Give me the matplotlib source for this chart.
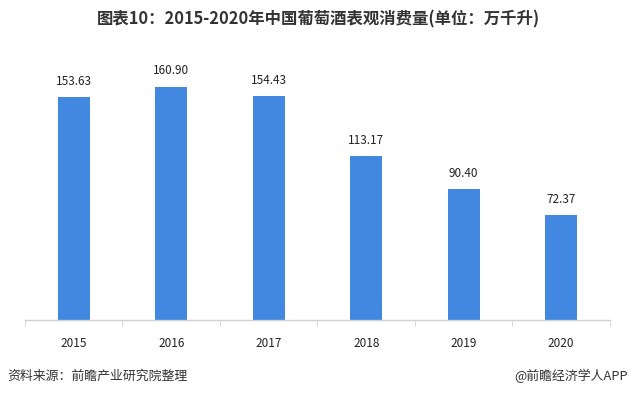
import matplotlib
matplotlib.use("Agg")
import matplotlib.pyplot as plt

plt.rcParams['font.family'] = ['Noto Sans CJK SC', 'DejaVu Sans']

years = ["2015", "2016", "2017", "2018", "2019", "2020"]
values = [153.63, 160.90, 154.43, 113.17, 90.40, 72.37]
title = "图表10：2015-2020年中国葡萄酒表观消费量(单位：万千升)"
source = "资料来源：前瞻产业研究院整理"
brand = "@前瞻经济学人APP"

fig = plt.figure(figsize=(6.31, 3.95), dpi=100)
ax = fig.add_axes([0.0396, 0.19, 0.927, 0.66])
x = list(range(len(years)))
bars = ax.bar(x, values, width=0.33, color="#4287E0")
for xi, v in zip(x, values):
    ax.text(xi, v + 6.5, f"{v:.2f}", ha="center", va="bottom", fontsize=8.5, color="#222222")

ax.set_xlim(-0.5, len(years) - 0.5)
ax.set_ylim(0, 180)
ax.set_yticks([])
for s in ["top", "right", "left"]:
    ax.spines[s].set_visible(False)
ax.spines["bottom"].set_color("#D0D0D0")
ax.spines["bottom"].set_linewidth(1)
ax.set_xticks(x)
ax.set_xticklabels(years, fontsize=8.5, color="#222222")
ax.tick_params(axis="x", length=0, pad=12)
ax.set_xticks([i - 0.5 for i in range(len(years) + 1)], minor=True)
ax.tick_params(axis="x", which="minor", length=4, color="#D0D0D0", direction="out")

fig.text(0.504, 0.95, title, ha="center", va="center", fontsize=11.8, fontweight="bold", color="#333333")
fig.text(0.012, 0.048, source, ha="left", va="center", fontsize=9.3, color="#333333")
fig.text(0.995, 0.048, brand, ha="right", va="center", fontsize=9.3, color="#333333")

fig.savefig("out.png", dpi=100)
